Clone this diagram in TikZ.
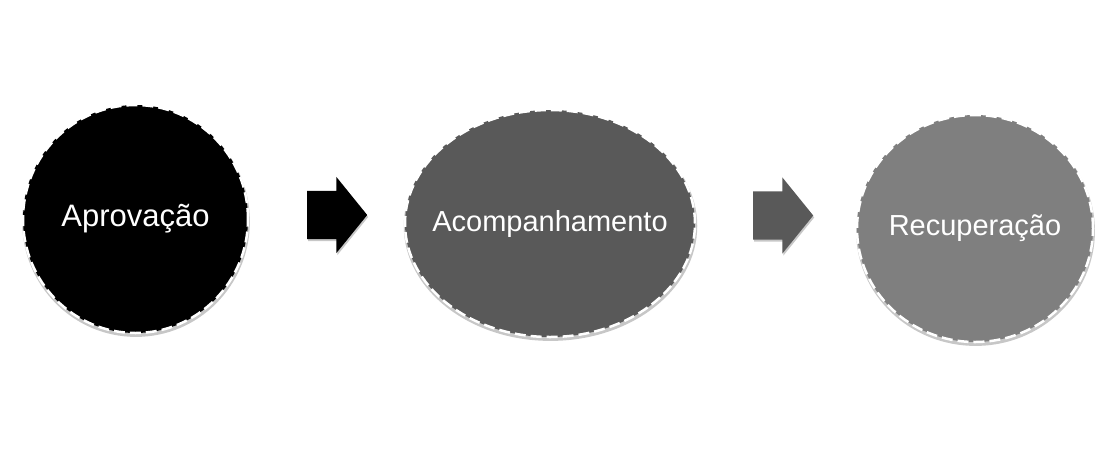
\documentclass[tikz,border=0pt]{standalone}
\usepackage{fontspec}
\setmainfont{Liberation Sans}
\usetikzlibrary{shapes.geometric,shapes.arrows,shadows,positioning}
\definecolor{stepA}{RGB}{0,0,0}
\definecolor{stepB}{RGB}{89,89,89}
\definecolor{stepC}{RGB}{127,127,127}

\begin{document}
\begin{tikzpicture}[x=1pt, y=1pt,
  phase/.style={ellipse, draw=white, line width=2.5pt, dash pattern=on 11pt off 5pt,
    text=white, inner sep=0pt,
    drop shadow={shadow xshift=0.5pt, shadow yshift=-2.5pt, shadow scale=1.012,
      fill=black, opacity=0.22}},
  flow/.style={single arrow, draw=none, inner xsep=0pt, inner ysep=24pt, minimum height=60pt,
    minimum width=76pt, single arrow head extend=14pt, single arrow tip angle=102,
    anchor=tail,
    drop shadow={shadow xshift=1pt, shadow yshift=-2pt, fill=black, opacity=0.22}},
]
\useasboundingbox[fill=white] (0,0) rectangle (1099,-464);

\node[phase, fill=stepA, minimum width=225pt, minimum height=228pt,
  font=\fontsize{31}{36}\selectfont] (aprov) at (135.5,-219) {\makebox[0pt]{Aprovação}};
\node[phase, fill=stepB, minimum width=290pt, minimum height=227pt,
  font=\fontsize{29}{34}\selectfont] (acomp) at (550,-223.5) {\makebox[0pt]{Acompanhamento}};
\node[phase, fill=stepC, minimum width=236pt, minimum height=227pt,
  font=\fontsize{29}{34}\selectfont] (recup) at (975,-228.5) {\makebox[0pt]{Recuperação}};

% setas de bloco entre as fases
\node[flow, fill=stepA] (seta1) at (307,-215) {};
\node[flow, fill=stepB] (seta2) at (753,-215.5) {};
\end{tikzpicture}
\end{document}
